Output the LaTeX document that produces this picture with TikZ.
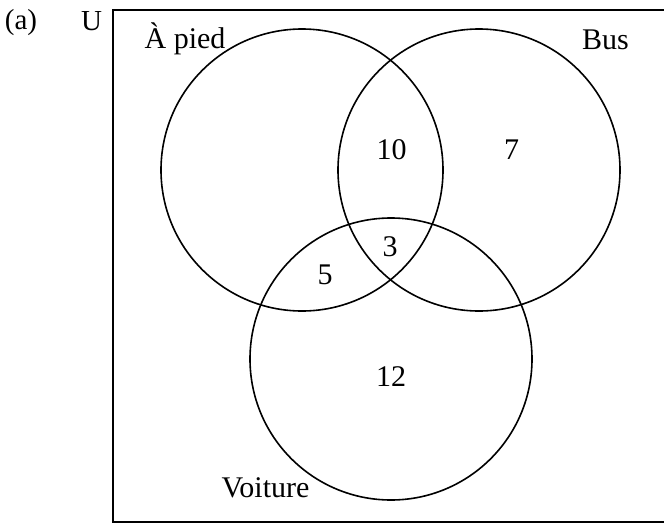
\documentclass[tikz,border=0pt]{standalone}
\usepackage{fontspec}
\setmainfont{Liberation Serif}
\begin{document}
\begin{tikzpicture}[x=1pt, y=-1pt,
  setcircle/.style={draw, circle, line width=1.6pt, minimum size=282pt, inner sep=0pt},
  lbl/.style={anchor=base, inner sep=0pt, font=\fontsize{30}{36}\selectfont},
  tag/.style={anchor=base, inner sep=0pt, font=\fontsize{29}{35}\selectfont}]
  \useasboundingbox (0,0) rectangle (664,525);
  \clip (0,0) rectangle (664,525);
  % universe frame
  \draw[line width=2pt] (113,10) rectangle (680,522);
  % the three sets
  \node[setcircle] (pied) at (302,170) {};
  \node[setcircle] (bus) at (479,170) {};
  \node[setcircle] (voit) at (391,359) {};
  % captions
  \node[tag] (part) at (21,29) {(a)};
  \node[tag] (univ) at (91.5,30) {U};
  \node[lbl] (lpied) at (185,48) {À pied};
  \node[lbl] (lbus) at (605.5,49) {Bus};
  \node[lbl] (lvoit) at (265.5,497) {Voiture};
  % region counts
  \node[lbl] (n10) at (391.5,159) {10};
  \node[lbl] (n7) at (511.5,159) {7};
  \node[lbl] (n3) at (390,256) {3};
  \node[lbl] (n5) at (325,284) {5};
  \node[lbl] (n12) at (391,386) {12};
\end{tikzpicture}
\end{document}
